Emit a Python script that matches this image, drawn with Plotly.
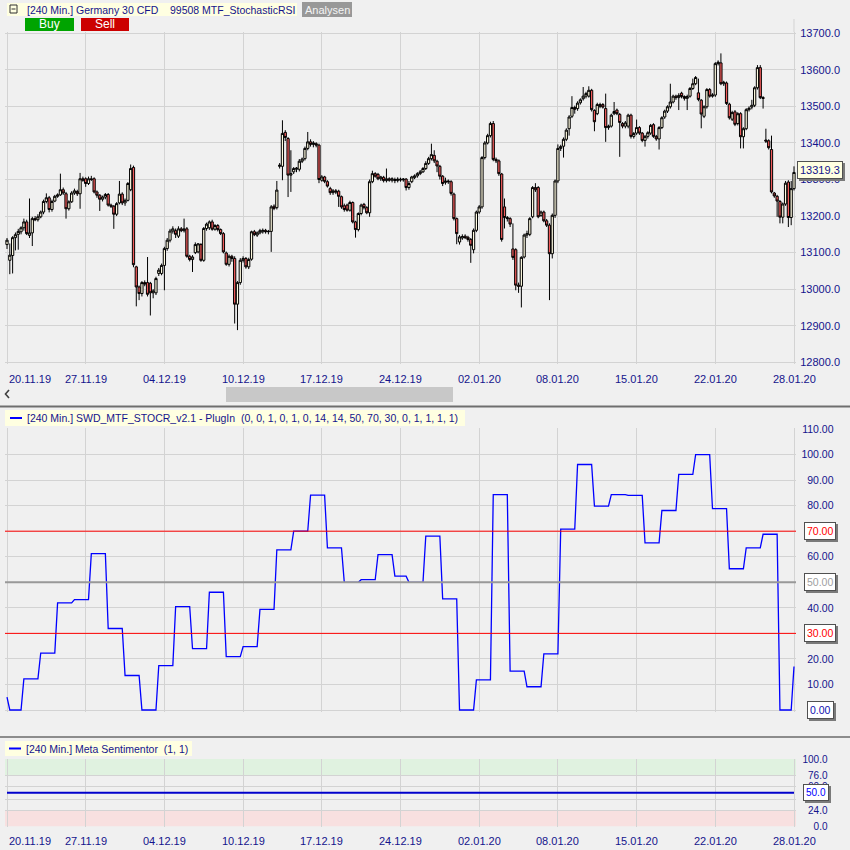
import plotly.graph_objects as go

# ------------------------------------------------------------------ data
date_labels = ["20.11.19", "27.11.19", "04.12.19", "10.12.19", "17.12.19", "24.12.19",
               "02.01.20", "08.01.20", "15.01.20", "22.01.20", "28.01.20"]
date_ticks = [0, 28, 56, 84, 112, 140, 168, 196, 224, 252, 280]

price_ticks = [12800, 12900, 13000, 13100, 13200, 13300, 13400, 13500, 13600, 13700]

open_ = [
    13122, 13079, 13092, 13141, 13150, 13157, 13168, 13184, 13147, 13154,
    13193, 13190, 13198, 13211, 13240, 13250, 13218, 13241, 13254, 13258,
    13272, 13261, 13220, 13239, 13263, 13267, 13261, 13302, 13302, 13289,
    13302, 13302, 13266, 13257, 13246, 13252, 13259, 13230, 13227, 13205,
    13236, 13260, 13236, 13243, 13272, 13333, 13061, 13006, 12988, 13018,
    13018, 13016, 12990, 12990, 13043, 13043, 13065, 13111, 13134, 13159,
    13160, 13145, 13165, 13160, 13165, 13090, 13081, 13100, 13102, 13122,
    13079, 13166, 13168, 13184, 13164, 13174, 13163, 13152, 13099, 13068,
    13090, 13084, 12959, 13018, 13079, 13084, 13061, 13082, 13157, 13148,
    13154, 13157, 13161, 13157, 13158, 13227, 13223, 13336, 13336, 13429,
    13412, 13312, 13321, 13328, 13328, 13350, 13357, 13385, 13403, 13396,
    13398, 13394, 13298, 13307, 13294, 13275, 13264, 13269, 13268, 13253,
    13228, 13230, 13216, 13237, 13184, 13163, 13207, 13232, 13223, 13209,
    13294, 13316, 13314, 13302, 13306, 13297, 13302, 13298, 13300, 13297,
    13301, 13299, 13301, 13278, 13294, 13305, 13310, 13316, 13321, 13330,
    13344, 13357, 13366, 13350, 13336, 13309, 13292, 13296, 13294, 13260,
    13193, 13129, 13140, 13145, 13142, 13136, 13108, 13161, 13211, 13225,
    13360, 13400, 13420, 13453, 13355, 13351, 13315, 13225, 13196, 13193,
    13110, 13108, 13011, 13008, 13088, 13148, 13150, 13198, 13278, 13278,
    13202, 13211, 13187, 13175,
    13097, 13202, 13296, 13385, 13391, 13410, 13439, 13473, 13497, 13494,
    13510, 13521, 13528, 13528, 13544, 13489, 13480, 13500, 13505, 13494,
    13442, 13446, 13480, 13490, 13478, 13453, 13446, 13446, 13476, 13418,
    13427, 13442, 13427, 13407, 13418, 13427, 13450, 13418, 13411, 13442,
    13471, 13487, 13499, 13512, 13528, 13524, 13536, 13527, 13522, 13528,
    13549, 13562, 13537, 13517, 13473, 13499, 13546, 13528, 13531, 13617,
    13619, 13562, 13564, 13506, 13465, 13485, 13453, 13480, 13417, 13439,
    13491, 13498, 13503, 13551, 13606, 13524, 13408, 13406, 13382, 13263,
    13254, 13240, 13197, 13233, 13293, 13196, 13275,
]
high = [
    13140, 13125, 13145, 13155, 13165, 13172, 13193, 13190, 13248, 13198,
    13200, 13205, 13215, 13245, 13262, 13255, 13245, 13258, 13262, 13316,
    13278, 13266, 13243, 13268, 13275, 13272, 13318, 13308, 13306, 13308,
    13310, 13306, 13270, 13260, 13256, 13263, 13263, 13234, 13230, 13238,
    13296, 13265, 13248, 13293, 13341, 13338, 13064, 13010, 13022, 13024,
    13088, 13020, 13000, 13034, 13058, 13070, 13116, 13140, 13165, 13172,
    13166, 13172, 13170, 13193, 13170, 13094, 13093, 13128, 13126, 13126,
    13170, 13182, 13188, 13190, 13178, 13178, 13166, 13156, 13103, 13095,
    13094, 13090, 13022, 13085, 13090, 13088, 13086, 13160, 13162, 13158,
    13165, 13166, 13165, 13162, 13230, 13232, 13296, 13345, 13462, 13435,
    13416, 13380, 13334, 13334, 13356, 13360, 13390, 13430, 13410, 13405,
    13402, 13398, 13312, 13310, 13298, 13280, 13274, 13274, 13272, 13256,
    13234, 13234, 13242, 13240, 13187, 13210, 13234, 13236, 13227, 13300,
    13324, 13320, 13318, 13310, 13310, 13330, 13306, 13306, 13305, 13306,
    13305, 13304, 13304, 13296, 13310, 13314, 13320, 13326, 13334, 13350,
    13362, 13398, 13380, 13354, 13340, 13312, 13305, 13300, 13298, 13264,
    13196, 13148, 13150, 13150, 13146, 13140, 13166, 13215, 13230, 13364,
    13405, 13425, 13458, 13460, 13360, 13355, 13318, 13248, 13200, 13197,
    13180, 13112, 13018, 13090, 13152, 13160, 13197, 13282, 13290, 13282,
    13215, 13215, 13192, 13180,
    13207, 13300, 13396, 13395, 13415, 13440, 13476, 13528, 13502, 13514,
    13522, 13553, 13540, 13555, 13548, 13492, 13510, 13510, 13509, 13535,
    13450, 13480, 13512, 13494, 13482, 13457, 13460, 13480, 13480, 13430,
    13464, 13446, 13430, 13422, 13432, 13452, 13454, 13422, 13446, 13473,
    13491, 13503, 13562, 13532, 13532, 13536, 13540, 13530, 13532, 13553,
    13576, 13583, 13576, 13520, 13503, 13550, 13550, 13536, 13621, 13626,
    13645, 13570, 13568, 13510, 13488, 13490, 13484, 13484, 13443, 13495,
    13500, 13518, 13555, 13613, 13613, 13528, 13439, 13410, 13420, 13266,
    13258, 13244, 13237, 13296, 13298, 13296, 13336,
]
low = [
    13110, 13041, 13043, 13106, 13108, 13150, 13160, 13148, 13140, 13118,
    13186, 13185, 13194, 13205, 13235, 13210, 13212, 13238, 13250, 13255,
    13258, 13193, 13215, 13236, 13258, 13255, 13220, 13294, 13280, 13285,
    13296, 13262, 13250, 13214, 13240, 13246, 13226, 13222, 13165, 13200,
    13232, 13230, 13228, 13240, 13268, 13060, 12953, 12970, 12980, 13008,
    12980, 12928, 12975, 12984, 13036, 13038, 12997, 13105, 13128, 13152,
    13140, 13140, 13156, 13155, 13086, 13076, 13047, 13096, 13098, 13075,
    13075, 13160, 13162, 13160, 13160, 13158, 13148, 13098, 13064, 13062,
    13075, 12906, 12888, 13012, 13073, 13056, 13055, 13078, 13145, 13143,
    13150, 13152, 13152, 13150, 13102, 13216, 13218, 13330, 13298, 13405,
    13252, 13266, 13315, 13320, 13322, 13345, 13352, 13380, 13390, 13388,
    13388, 13290, 13294, 13290, 13278, 13258, 13258, 13260, 13225, 13220,
    13212, 13212, 13212, 13180, 13141, 13158, 13202, 13218, 13205, 13198,
    13290, 13305, 13298, 13296, 13292, 13292, 13294, 13292, 13290, 13292,
    13294, 13294, 13270, 13272, 13290, 13301, 13305, 13312, 13318, 13326,
    13340, 13352, 13345, 13320, 13300, 13282, 13286, 13288, 13256, 13188,
    13123, 13122, 13135, 13137, 13130, 13072, 13098, 13156, 13206, 13220,
    13355, 13396, 13415, 13350, 13345, 13310, 13130, 13166, 13185, 13170,
    13080, 12997, 12990, 12950, 13084, 13140, 13145, 13194, 13266, 13194,
    13198, 13183, 13170, 12970,
    13084, 13195, 13290, 13378, 13360, 13405, 13420, 13468, 13480, 13488,
    13505, 13516, 13522, 13524, 13486, 13432, 13476, 13495, 13494, 13403,
    13436, 13442, 13476, 13476, 13362, 13440, 13440, 13440, 13412, 13412,
    13422, 13422, 13402, 13390, 13412, 13422, 13414, 13406, 13382, 13438,
    13466, 13482, 13494, 13508, 13518, 13490, 13522, 13516, 13490, 13524,
    13545, 13558, 13514, 13440, 13468, 13494, 13524, 13524, 13526, 13612,
    13558, 13556, 13504, 13464, 13460, 13446, 13448, 13385, 13385, 13435,
    13486, 13492, 13498, 13546, 13520, 13494, 13400, 13382, 13262, 13250,
    13198, 13180, 13180, 13228, 13170, 13175, 13270,
]
close = [
    13134, 13093, 13141, 13149, 13158, 13168, 13184, 13152, 13154, 13193,
    13190, 13198, 13211, 13240, 13250, 13218, 13240, 13254, 13258, 13272,
    13263, 13220, 13239, 13263, 13269, 13261, 13302, 13298, 13289, 13302,
    13300, 13266, 13257, 13246, 13252, 13259, 13230, 13227, 13205, 13234,
    13260, 13236, 13243, 13289, 13330, 13067, 13006, 12988, 13018, 13014,
    12986, 12990, 12995, 13029, 13052, 13065, 13111, 13134, 13159, 13165,
    13150, 13165, 13160, 13165, 13090, 13081, 13088, 13122, 13124, 13079,
    13166, 13178, 13184, 13164, 13174, 13163, 13152, 13102, 13068, 13090,
    13084, 12959, 13018, 13079, 13084, 13061, 13081, 13157, 13149, 13154,
    13160, 13161, 13157, 13158, 13225, 13221, 13271, 13339, 13426, 13415,
    13312, 13316, 13330, 13331, 13350, 13356, 13385, 13403, 13396, 13400,
    13394, 13300, 13307, 13295, 13282, 13264, 13269, 13266, 13254, 13225,
    13218, 13216, 13237, 13184, 13163, 13207, 13230, 13223, 13209, 13294,
    13316, 13309, 13302, 13307, 13297, 13302, 13298, 13302, 13297, 13301,
    13299, 13301, 13278, 13289, 13307, 13310, 13316, 13321, 13330, 13344,
    13357, 13368, 13351, 13337, 13309, 13289, 13296, 13294, 13262, 13193,
    13152, 13143, 13144, 13141, 13136, 13120, 13161, 13211, 13225, 13360,
    13400, 13420, 13453, 13355, 13351, 13316, 13136, 13196, 13193, 13178,
    13087, 13011, 13008, 13087, 13148, 13152, 13193, 13278, 13272, 13198,
    13211, 13187, 13175, 13097,
    13202, 13296, 13385, 13390, 13410, 13435, 13471, 13497, 13492, 13509,
    13518, 13528, 13535, 13544, 13491, 13458, 13505, 13505, 13498, 13442,
    13446, 13476, 13486, 13480, 13456, 13446, 13455, 13476, 13418, 13426,
    13442, 13427, 13407, 13418, 13428, 13448, 13418, 13411, 13442, 13469,
    13487, 13499, 13512, 13528, 13524, 13530, 13527, 13522, 13527, 13549,
    13562, 13579, 13519, 13479, 13499, 13546, 13528, 13531, 13617, 13621,
    13562, 13566, 13508, 13469, 13483, 13451, 13480, 13417, 13439, 13491,
    13495, 13503, 13551, 13606, 13524, 13522, 13405, 13387, 13266, 13255,
    13241, 13197, 13233, 13290, 13196, 13275, 13319.3,
]
bar_index = list(range(len(close)))

# Stochastic RSI (daily value held on the 4h bars): start bar, end bar, value
stoch_seg_start = [0, 1, 6, 12, 18, 24, 30, 36, 42, 48, 54, 60, 66, 72, 78, 84, 90, 96, 102, 108,
                   114, 120, 126, 132, 138, 143, 149, 155, 161, 167, 173, 179, 185, 191, 197, 203,
                   209, 215, 221, 227, 233, 239, 245, 251, 257, 263, 269, 275, 280]
stoch_seg_end = [0, 5, 11, 17, 23, 29, 35, 41, 47, 53, 59, 65, 71, 77, 83, 89, 95, 101, 107, 113,
                 119, 125, 131, 137, 142, 148, 154, 160, 166, 172, 178, 184, 190, 196, 202, 208,
                 214, 220, 226, 232, 238, 244, 250, 256, 262, 268, 274, 279, 280]
stoch_seg_value = [5, 0, 12.2, 22.3, 41.9, 43.2, 61.2, 31.9, 13.5, 0, 17.4, 40.5, 24.0, 46.1, 20.9,
                   24.8, 39.4, 62.7, 70.0, 84.1, 63.5, 50.0, 51.0, 60.8, 52.4, 50.0, 68.1, 43.5, 0,
                   11.8, 84.3, 15.2, 9.1, 22.0, 70.8, 96.1, 79.8, 84.3, 84.0, 65.4, 78.1, 92.2, 100,
                   78.8, 55.3, 63.5, 68.8, 0, 17]
stoch_ticks = [0, 10, 20, 30, 40, 50, 60, 70, 80, 90, 100, 110]
stoch_upper, stoch_mid, stoch_lower = 70, 50, 30

sent_x = [0, 280]
sent_y = [50, 50]
sent_ticks = [0, 24, 40, 60, 76, 100]
sent_bull_band = (76, 100)
sent_bear_band = (0, 24)

# ------------------------------------------------------------------ helpers / style
W = H = 850
def PX(x):
    return x / W
def PY(y):
    return 1 - y / H

FONT = "Liberation Sans, Arial, sans-serif"
NAVY = "#14148c"
GRID = "#d3d3d3"
BG = "#f0f0f0"
HDR = "#ffffe1"

sx, sy = [], []
for s, e, v in zip(stoch_seg_start, stoch_seg_end, stoch_seg_value):
    sx.append(s); sy.append(v)
    if e != s:
        sx.append(e); sy.append(v)

fig = go.Figure()
fig.add_trace(go.Candlestick(
    x=bar_index, open=open_, high=high, low=low, close=close,
    xaxis="x", yaxis="y", whiskerwidth=0, hoverinfo="skip",
    increasing=dict(fillcolor="#fffbe1", line=dict(color="#000000", width=1)),
    decreasing=dict(fillcolor="#f05a5a", line=dict(color="#000000", width=1)),
))
fig.add_trace(go.Scatter(x=sx, y=sy, mode="lines", xaxis="x2", yaxis="y2",
                         line=dict(color="#0000ff", width=1.3), hoverinfo="skip"))
fig.add_trace(go.Scatter(x=sent_x, y=sent_y, mode="lines", xaxis="x3", yaxis="y3",
                         line=dict(color="#0000cc", width=2), hoverinfo="skip"))

XR = [(5 - 7) / 2.8107, (796 - 7) / 2.8107]
xcommon = dict(domain=[PX(5), PX(796)], range=XR, tickvals=date_ticks, showticklabels=False,
               showgrid=True, gridcolor=GRID, gridwidth=1, zeroline=False, showline=False,
               ticks="", fixedrange=True, automargin=False)
ycommon = dict(showgrid=True, gridcolor=GRID, gridwidth=1, zeroline=False, showline=False,
               ticks="", side="left", anchor="free", fixedrange=True, automargin=False)

stoch_text = ["" if v in (0, 30, 50, 70) else f"{v:.2f}" for v in stoch_ticks]

fig.update_layout(
    width=W, height=H, autosize=False,
    margin=dict(l=0, r=0, t=0, b=0, pad=0, autoexpand=False),
    paper_bgcolor=BG, plot_bgcolor=BG, showlegend=False, hovermode=False,
    font=dict(family=FONT, size=11, color=NAVY),
    boxgap=0.2, boxgroupgap=0,
    xaxis=dict(**xcommon, anchor="y", rangeslider=dict(visible=False)),
    xaxis2=dict(**xcommon, anchor="y2"),
    xaxis3=dict(**xcommon, anchor="y3"),
    yaxis=dict(**ycommon, domain=[PY(364), PY(32)], range=[12795.3, 13703.5],
               tickvals=price_ticks, ticktext=[f"{v:.1f}" for v in price_ticks],
               position=PX(840), tickfont=dict(size=11, color=NAVY, family=FONT)),
    yaxis2=dict(**ycommon, domain=[PY(712), PY(428)], range=[-0.78, 110.39],
                tickvals=stoch_ticks, ticktext=stoch_text,
                position=PX(833.5), tickfont=dict(size=10.5, color=NAVY, family=FONT)),
    yaxis3=dict(**ycommon, domain=[PY(826.5), PY(759)], range=[0, 100],
                tickvals=sent_ticks, ticktext=[f"{v:.1f}" for v in sent_ticks],
                position=PX(827.5), tickfont=dict(size=10, color=NAVY, family=FONT)),
)

shapes = []
annotations = []

def rect(x0, y0, x1, y1, fill, line=None, lw=0):
    shapes.append(dict(type="rect", xref="paper", yref="paper", x0=PX(x0), x1=PX(x1),
                       y0=PY(y1), y1=PY(y0), fillcolor=fill,
                       line=dict(color=line or fill, width=lw)))

def hline(x0, x1, y, color, width):
    shapes.append(dict(type="line", xref="paper", yref="paper", x0=PX(x0), x1=PX(x1),
                       y0=PY(y), y1=PY(y), line=dict(color=color, width=width)))

def text(x, y, t, size=10.5, color=NAVY, anchor="left"):
    annotations.append(dict(xref="paper", yref="paper", x=PX(x), y=PY(y), text=t,
                            showarrow=False, xanchor=anchor, yanchor="middle",
                            font=dict(size=size, color=color, family=FONT)))

# top header
rect(7, 3, 297, 16, HDR)
rect(10, 5, 17, 13, "rgba(0,0,0,0)", "#303030", 1)
hline(11.5, 15.5, 9, "#303030", 1)
text(25, 9.5, "[240 Min.] Germany 30 CFD\u00a0\u00a0\u00a0 99508 MTF_StochasticRSI")
rect(302, 2, 352, 17, "#989898")
text(327, 9.5, "Analysen", 11, "#f4f4f4", "center")
rect(25, 18, 74, 31, "#00a400")
text(49.5, 24.5, "Buy", 12, "#ffffff", "center")
rect(81, 18, 129, 31, "#cc0000")
text(105, 24.5, "Sell", 12, "#ffffff", "center")
# right frame above the price grid
shapes.append(dict(type="line", xref="x", yref="paper", x0=280, x1=280, y0=PY(32), y1=PY(19),
                   line=dict(color=GRID, width=1)))

# date labels under top and bottom panels
for yy in (379, 841):
    for k, (pos, lab) in enumerate(zip(date_ticks, date_labels)):
        annotations.append(dict(xref="x", yref="paper", x=pos, y=PY(yy), text=lab,
                                showarrow=False, xanchor="left" if k == 0 else "center",
                                yanchor="middle", font=dict(size=11, color=NAVY, family=FONT)))

# scrollbar
rect(226, 387, 453, 402, "#c8c8c8")
shapes.append(dict(type="path", xref="paper", yref="paper",
                   path=f"M {PX(9)} {PY(390)} L {PX(5.5)} {PY(394)} L {PX(9)} {PY(398)}",
                   line=dict(color="#404040", width=1.6)))

# panel separators
hline(0, 850, 406.5, "#6e6e6e", 2)
hline(0, 850, 737, "#8c8c8c", 2)

# middle header
rect(5, 410, 465, 426, HDR)
hline(10, 22, 418, "#0000ff", 2)
text(25, 418, "[240 Min.] SWD_MTF_STOCR_v2.1 - PlugIn\u00a0\u00a0(0, 0, 1, 0, 1, 0, 14, 14, 50, 70, 30, 0, 1, 1, 1, 1)")

# bottom header
rect(5, 741, 192, 756, HDR)
hline(9, 21, 748.5, "#0000ff", 2)
text(24, 748.5, "[240 Min.] Meta Sentimentor\u00a0\u00a0(1, 1)")

# stoch level lines
for lvl, col, wd in ((stoch_upper, "#ff0000", 1), (stoch_lower, "#ff0000", 1), (stoch_mid, "#999999", 2)):
    shapes.append(dict(type="line", xref="x2 domain", yref="y2", x0=0, x1=1, y0=lvl, y1=lvl,
                       line=dict(color=col, width=wd)))

# sentimentor bands
for (b0, b1), col in ((sent_bull_band, "#e0f2e0"), (sent_bear_band, "#f8e0e0")):
    shapes.append(dict(type="rect", xref="x3 domain", yref="y3", x0=0, x1=1, y0=b0, y1=b1,
                       fillcolor=col, line=dict(width=0), layer="below"))

# boxed axis labels
def boxlabel(yref, yval, label, color, xcenter, size, bg="#ffffff", yshift=0):
    common = dict(xref="paper", yref=yref, x=PX(xcenter), y=yval, text=label, showarrow=False,
                  xanchor="center", yanchor="middle", borderpad=2, borderwidth=1)
    annotations.append(dict(**common, xshift=2, yshift=yshift - 2, bgcolor="#7a7a7a",
                            bordercolor="#7a7a7a", font=dict(size=size, color="#7a7a7a", family=FONT)))
    annotations.append(dict(**common, yshift=yshift, bgcolor=bg, bordercolor="#505050",
                            font=dict(size=size, color=color, family=FONT)))

boxlabel("y", close[-1], f"{close[-1]:.1f}", NAVY, 820, 11, HDR, yshift=2)
boxlabel("y2", stoch_upper, f"{stoch_upper:.2f}", "#ff0000", 820, 10.5)
boxlabel("y2", stoch_mid, f"{stoch_mid:.2f}", "#a0a0a0", 820, 10.5)
boxlabel("y2", stoch_lower, f"{stoch_lower:.2f}", "#ff0000", 820, 10.5)
boxlabel("y2", 0, f"{0:.2f}", "#1010b0", 820, 10.5)
boxlabel("y3", sent_y[-1], f"{sent_y[-1]:.1f}", "#0000ff", 815.5, 10)

fig.update_layout(shapes=shapes, annotations=annotations)

POST = ("var gd=document.getElementById('{plot_id}');"
        "var de=document.documentElement, b=document.body;"
        "[de,b].forEach(function(e){e.style.margin='0';e.style.padding='0';"
        "e.style.overflow='hidden';e.style.height='850px';e.style.width='850px';});"
        "gd.style.position='absolute';gd.style.left='0px';gd.style.top='0px';")

fig.write_html("out.html", config={"displayModeBar": False, "staticPlot": True},
               post_script=POST)
